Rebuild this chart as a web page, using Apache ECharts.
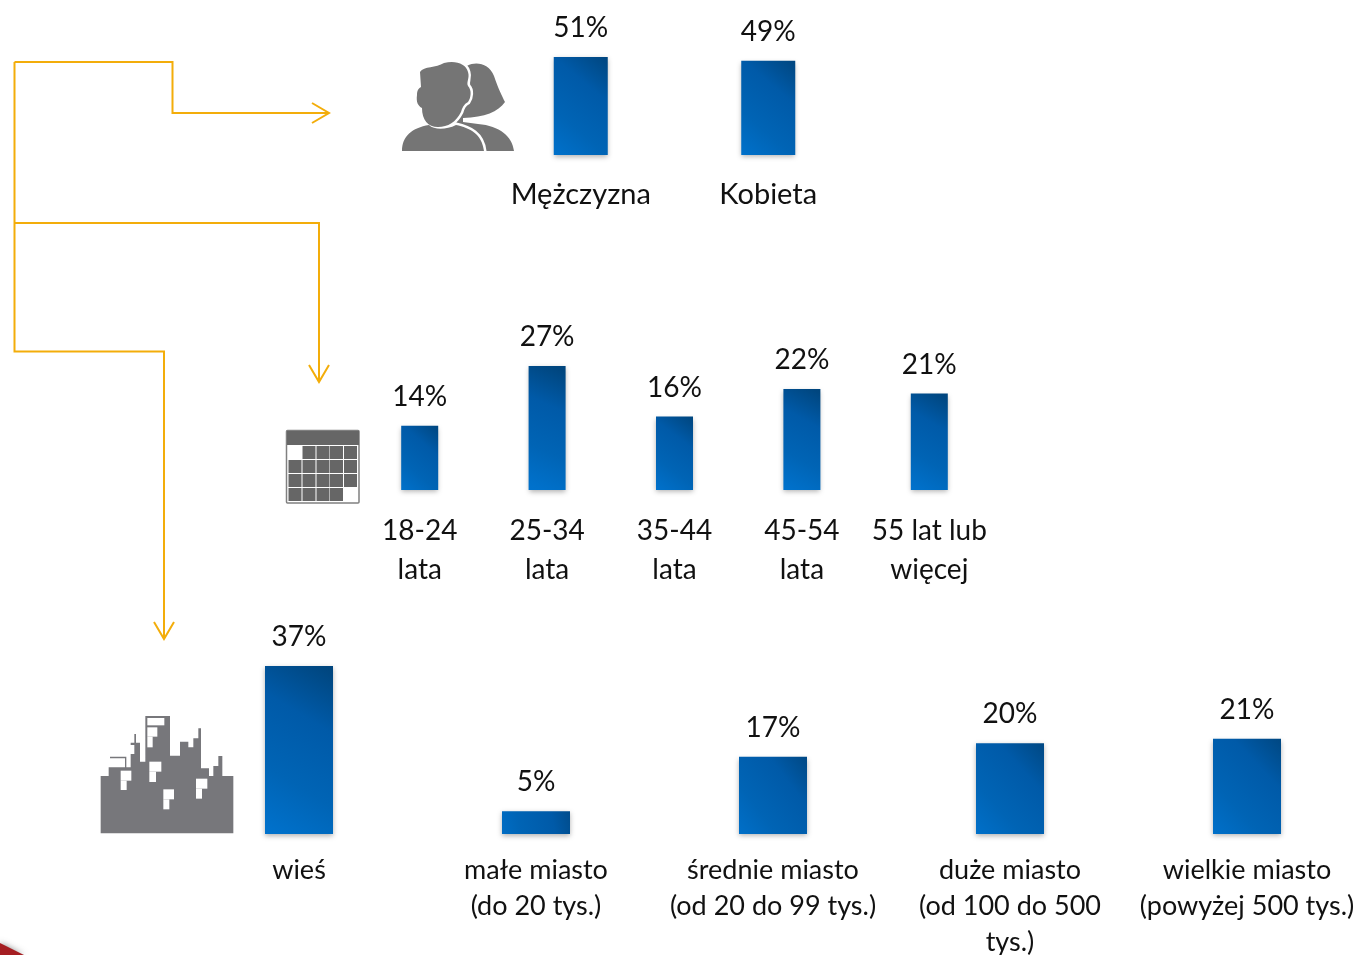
<!DOCTYPE html>
<html><head><meta charset="utf-8">
<style>html,body{margin:0;padding:0;background:#fff}#c{width:1359px;height:955px}</style>
<script src="https://cdn.jsdelivr.net/npm/echarts@6/dist/echarts.min.js"></script>
</head><body><div id="c"></div>
<script>
const genderCategories = ['Mężczyzna', 'Kobieta'];
const genderValues = [51, 49];
const ageCategories = ['18-24\nlata', '25-34\nlata', '35-44\nlata', '45-54\nlata', '55 lat lub\nwięcej'];
const ageValues = [14, 27, 16, 22, 21];
const placeCategories = ['wieś', 'małe miasto\n(do 20 tys.)', 'średnie miasto\n(od 20 do 99 tys.)', 'duże miasto\n(od 100 do 500\ntys.)', 'wielkie miasto\n(powyżej 500 tys.)'];
const placeValues = [37, 5, 17, 20, 21];

const FONT = 'Lato';
const TEXT = '#111';
const barFill = new echarts.graphic.LinearGradient(1.25, 0, -0.25, 1, [
  {offset: 0, color: '#00437b'}, {offset: .07, color: '#00467f'}, {offset: .34, color: '#005aa8'}, {offset: .66, color: '#0064b5'}, {offset: .93, color: '#0071cb'}, {offset: 1, color: '#0073ce'}
]);
const panels = [
  {cats: genderCategories, vals: genderValues, left: 487, width: 375, top: 57, bottom: 155, bar: 54, lh: 36, margin: 22, font: 29},
  {cats: ageCategories, vals: ageValues, left: 356, width: 637, top: 366, bottom: 490, bar: 37, lh: 39, margin: 21, font: 28},
  {cats: placeCategories, vals: placeValues, left: 180.5, width: 1185, top: 666, bottom: 834, bar: 68, lh: 36, margin: 18, font: 27}
];
const grid = [], xAxis = [], yAxis = [], series = [];
panels.forEach((p, i) => {
  grid.push({left: p.left, width: p.width, top: p.top, height: p.bottom - p.top, containLabel: false, outerBoundsMode: 'none'});
  xAxis.push({type: 'category', gridIndex: i, data: p.cats,
    axisLine: {show: false}, axisTick: {show: false}, splitLine: {show: false},
    axisLabel: {interval: 0, color: TEXT, fontFamily: FONT, fontSize: p.font, lineHeight: p.lh, margin: p.margin, hideOverlap: false}});
  yAxis.push({type: 'value', gridIndex: i, min: 0, max: Math.max(...p.vals), show: false});
  series.push({type: 'bar', xAxisIndex: i, yAxisIndex: i, data: p.vals, barWidth: p.bar, silent: true, animation: false,
    itemStyle: {color: barFill, shadowColor: 'rgba(0,0,0,.3)', shadowBlur: 5, shadowOffsetY: 2},
    label: {show: true, position: 'top', distance: 15, formatter: '{c}%', color: TEXT, fontFamily: FONT, fontSize: 28}});
});

const ORANGE = '#f3ad0a';
const line = pts => ({type: 'polyline', shape: {points: pts}, style: {fill: null, stroke: ORANGE, lineWidth: 2}, silent: true});
const calendarCells = [];
const cx = [288.5, 302.5, 316.5, 330, 344], cy = [446, 460, 474, 488];
cy.forEach((y, r) => cx.forEach((x, c) => {
  const white = (r === 0 && c === 0) || (r === 3 && c === 4);
  calendarCells.push({type: 'rect', shape: {x, y, width: 13, height: 13}, style: {fill: white ? '#fff' : '#666'}, silent: true});
}));
const womanPath = 'M460 72C468 60 488 60 494 76C498 88 502 96 505 102C498 112 485 117 463 118L463 122L478 124C500 126 512 136 514 151L470 151L450 120Z';
const manPath = 'M420 72C424 66 436 68 444 63C456 60 466 64 468 72C470 78 466 82 468 86C472 90 471 98 468 102C464 104 462 108 461 112C456 122 448 127 438 127C428 127 422 120 422 108C418 106 416 102 417 95C417 90 419 88 421 87ZM429 125C434 130 446 130 456 125C470 128 482 134 484 151L402 151C402 136 412 128 429 125Z';
echarts.graphic.registerShape('womanIcon', echarts.graphic.extendPath(womanPath));
echarts.graphic.registerShape('manIcon', echarts.graphic.extendPath(manPath));
const cityPoints = [[302,430],[302,258],[326,258],[326,232],[375,232],[375,205],[330,205],[330,200],[379,200],[379,232],[392,232],[392,192],[403,192],[403,165],[392,165],[392,158],[403,158],[403,132],[408,132],[408,158],[420,158],[420,215],[436,215],[436,78],[510,78],[510,197],[540,197],[540,155],[565,155],[565,172],[580,172],[580,145],[595,145],[595,115],[603,115],[603,235],[627,235],[627,258],[640,258],[640,228],[655,228],[655,198],[667,198],[667,258],[700,258],[700,430]];
const cityWindows = [[442,84,51,22],[442,112,30,28],[442,140,16,32],[362,242,32,30],[362,272,18,28],[448,215,36,30],[448,245,20,31],[490,298,32,30],[490,328,18,30],[588,266,34,30],[588,296,18,30]];

const graphic = [
  line([[14.5,62],[172.5,62],[172.5,113],[328,113]]),
  line([[312,103],[329,113],[312,123]]),
  line([[14.5,62],[14.5,351.5],[164,351.5],[164,638]]),
  line([[154,622],[164,639],[174,622]]),
  line([[14.5,223],[319,223],[319,382]]),
  line([[309,365],[319,382],[329,365]]),
  {type: 'womanIcon', silent: true, style: {fill: '#757575'}},
  {type: 'manIcon', silent: true, style: {fill: '#fff', stroke: '#fff', lineWidth: 5}},
  {type: 'manIcon', silent: true, style: {fill: '#757575'}},
  {type: 'rect', silent: true, shape: {x: 286.5, y: 430.5, width: 72.5, height: 72.5, r: 1}, style: {fill: '#fff', stroke: '#808080', lineWidth: 1.5}},
  {type: 'rect', silent: true, shape: {x: 287, y: 431, width: 72, height: 14}, style: {fill: '#666'}},
  ...calendarCells,
  {type: 'group', x: 0, y: 690, scaleX: 1/3, scaleY: 1/3, silent: true, children: [
    {type: 'polygon', shape: {points: cityPoints}, style: {fill: '#77777b'}},
    ...cityWindows.map(w => ({type: 'rect', shape: {x: w[0], y: w[1], width: w[2], height: w[3]}, style: {fill: '#fff'}}))
  ]},
  {type: 'polygon', silent: true, shape: {points: [[0,943],[24,955],[0,955]]}, style: {fill: '#a51e22', shadowColor: 'rgba(90,90,90,.7)', shadowBlur: 6}}
];

const chart = echarts.init(document.getElementById('c'), null, {renderer: 'canvas'});
chart.setOption({backgroundColor: '#fff', animation: false, tooltip: {show: false}, legend: {show: false}, grid, xAxis, yAxis, series, graphic});
</script></body></html>
